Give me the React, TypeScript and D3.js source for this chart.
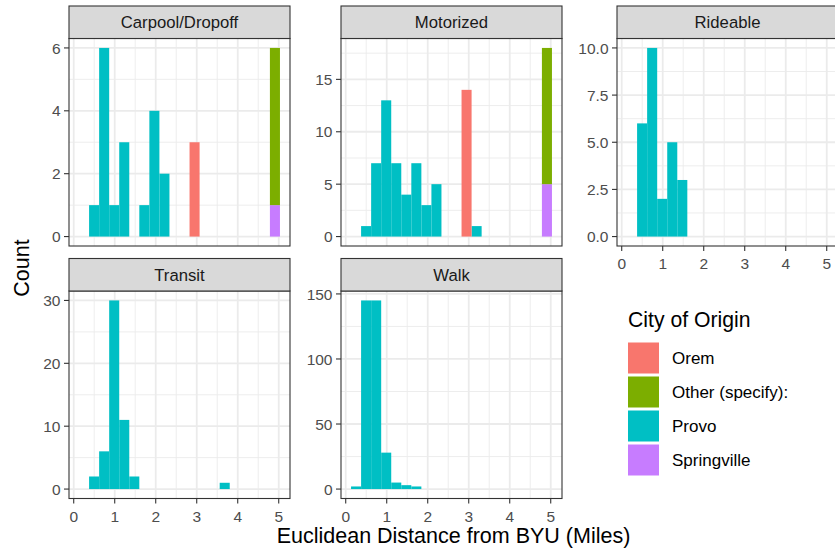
import React from "react";
import * as d3 from "d3";

// city levels (ggplot default hue palette)
const cities = ["Orem", "Other (specify):", "Provo", "Springville"];
const cityColors = ["#F8766D", "#7CAE00", "#00BFC4", "#C77CFF"];

// histogram bins (20 bins, shared x)
const binMin = 0.13;
const binWidth = 0.245;
const binCount = 20;

// counts per bin, per facet and city
const carpoolOrem = [0, 0, 0, 0, 0, 0, 0, 0, 0, 0, 0, 3, 0, 0, 0, 0, 0, 0, 0, 0];
const carpoolOther = [0, 0, 0, 0, 0, 0, 0, 0, 0, 0, 0, 0, 0, 0, 0, 0, 0, 0, 0, 5];
const carpoolProvo = [0, 1, 6, 1, 3, 0, 1, 4, 2, 0, 0, 0, 0, 0, 0, 0, 0, 0, 0, 0];
const carpoolSpringville = [0, 0, 0, 0, 0, 0, 0, 0, 0, 0, 0, 0, 0, 0, 0, 0, 0, 0, 0, 1];

const motorizedOrem = [0, 0, 0, 0, 0, 0, 0, 0, 0, 0, 0, 14, 0, 0, 0, 0, 0, 0, 0, 0];
const motorizedOther = [0, 0, 0, 0, 0, 0, 0, 0, 0, 0, 0, 0, 0, 0, 0, 0, 0, 0, 0, 13];
const motorizedProvo = [0, 1, 7, 13, 7, 4, 7, 3, 5, 0, 0, 0, 1, 0, 0, 0, 0, 0, 0, 0];
const motorizedSpringville = [0, 0, 0, 0, 0, 0, 0, 0, 0, 0, 0, 0, 0, 0, 0, 0, 0, 0, 0, 5];

const rideableProvo = [0, 6, 10, 2, 5, 3, 0, 0, 0, 0, 0, 0, 0, 0, 0, 0, 0, 0, 0, 0];
const transitProvo = [0, 2, 6, 30, 11, 2, 0, 0, 0, 0, 0, 0, 0, 0, 1, 0, 0, 0, 0, 0];
const walkProvo = [2, 145, 145, 28, 5, 3, 2, 0, 0, 0, 0, 0, 0, 0, 0, 0, 0, 0, 0, 0];
const none = [0, 0, 0, 0, 0, 0, 0, 0, 0, 0, 0, 0, 0, 0, 0, 0, 0, 0, 0, 0];

// tick labels
const xTicks = [0, 1, 2, 3, 4, 5];
const carpoolTicks = [0, 2, 4, 6];
const motorizedTicks = [0, 5, 10, 15];
const rideableTicks = [0, 2.5, 5, 7.5, 10];
const transitTicks = [0, 10, 20, 30];
const walkTicks = [0, 50, 100, 150];

const facets = [
  { name: "Carpool/Dropoff", col: 0, row: 0, xAxis: false, ticks: carpoolTicks, fmt: d3.format("d"),
    series: [carpoolOrem, carpoolOther, carpoolProvo, carpoolSpringville] },
  { name: "Motorized", col: 1, row: 0, xAxis: false, ticks: motorizedTicks, fmt: d3.format("d"),
    series: [motorizedOrem, motorizedOther, motorizedProvo, motorizedSpringville] },
  { name: "Rideable", col: 2, row: 0, xAxis: true, ticks: rideableTicks, fmt: d3.format(".1f"),
    series: [none, none, rideableProvo, none] },
  { name: "Transit", col: 0, row: 1, xAxis: true, ticks: transitTicks, fmt: d3.format("d"),
    series: [none, none, transitProvo, none] },
  { name: "Walk", col: 1, row: 1, xAxis: true, ticks: walkTicks, fmt: d3.format("d"),
    series: [none, none, walkProvo, none] },
];

const W = 835;
const H = 554;
const colX = [69, 341, 617];
const panelW = 221;
const rowY = [6, 258.5];
const stripH = 32.5;
const panelH = 207.5;
const font = "'Liberation Sans', Arial, Helvetica, sans-serif";
const grid = "#EBEBEB";
const dark = "#333333";

const edges = d3.range(binCount + 1).map((i) => binMin + i * binWidth);
const span = edges[binCount] - edges[0];
const x = d3
  .scaleLinear()
  .domain([edges[0] - 0.05 * span, edges[binCount] + 0.05 * span])
  .range([0, panelW]);

const minorOf = (ticks: number[], lo: number, hi: number) => {
  const step = ticks[1] - ticks[0];
  const m = ticks.map((t) => t - step / 2).concat([ticks[ticks.length - 1] + step / 2]);
  return m.filter((v) => v > lo && v < hi);
};

const Panel = ({ f }: { f: any }) => {
  const left = colX[f.col];
  const top = rowY[f.row] + stripH;
  const rows = d3.range(binCount).map((i) => {
    const r: any = { bin: i };
    f.series.forEach((s: number[], k: number) => (r[cities[k]] = s[i]));
    return r;
  });
  const keys = [...cities].reverse();
  const stacked = d3.stack().keys(keys)(rows);
  const maxY = d3.max(stacked[stacked.length - 1], (d) => d[1]) as number;
  const y = d3
    .scaleLinear()
    .domain([-0.05 * maxY, 1.05 * maxY])
    .range([panelH, 0]);
  const [x0, x1] = x.domain();
  const [y0, y1] = y.domain();
  const xMinor = minorOf(xTicks, x0, x1);
  const yMinor = minorOf(f.ticks, y0, y1);

  return (
    <g transform={`translate(${left},${top})`}>
      <rect width={panelW} height={panelH} fill="white" />
      {xMinor.map((v) => (
        <line key={"xm" + v} x1={x(v)} x2={x(v)} y1={0} y2={panelH} stroke={grid} strokeWidth={0.9} />
      ))}
      {yMinor.map((v) => (
        <line key={"ym" + v} x1={0} x2={panelW} y1={y(v)} y2={y(v)} stroke={grid} strokeWidth={0.9} />
      ))}
      {xTicks.map((v) => (
        <line key={"xM" + v} x1={x(v)} x2={x(v)} y1={0} y2={panelH} stroke={grid} strokeWidth={1.8} />
      ))}
      {f.ticks.map((v: number) => (
        <line key={"yM" + v} x1={0} x2={panelW} y1={y(v)} y2={y(v)} stroke={grid} strokeWidth={1.8} />
      ))}
      {stacked.map((layer) => (
        <g key={layer.key} fill={cityColors[cities.indexOf(layer.key)]}>
          {layer.map((d, i) =>
            d[1] - d[0] > 0 ? (
              <rect
                key={i}
                x={x(edges[i])}
                width={x(edges[i + 1]) - x(edges[i])}
                y={y(d[1])}
                height={y(d[0]) - y(d[1])}
              />
            ) : null
          )}
        </g>
      ))}
      <rect width={panelW} height={panelH} fill="none" stroke={dark} strokeWidth={1.1} />
      {/* strip */}
      <rect y={-stripH} width={panelW} height={stripH} fill="#D9D9D9" stroke={dark} strokeWidth={1.1} />
      <text
        x={panelW / 2}
        y={-stripH / 2}
        dy="0.36em"
        textAnchor="middle"
        fontFamily={font}
        fontSize={16.7}
        fill="#1A1A1A"
      >
        {f.name}
      </text>
      {/* y axis */}
      {f.ticks.map((v: number) => (
        <g key={"yt" + v} transform={`translate(0,${y(v)})`}>
          <line x1={-5} x2={0} stroke={dark} strokeWidth={1.1} />
          <text x={-8.5} dy="0.36em" textAnchor="end" fontFamily={font} fontSize={15.5} fill="#4D4D4D">
            {f.fmt(v)}
          </text>
        </g>
      ))}
      {/* x axis */}
      {f.xAxis &&
        xTicks.map((v) => (
          <g key={"xt" + v} transform={`translate(${x(v)},${panelH})`}>
            <line y1={0} y2={5} stroke={dark} strokeWidth={1.1} />
            <text y={23} textAnchor="middle" fontFamily={font} fontSize={15.5} fill="#4D4D4D">
              {v}
            </text>
          </g>
        ))}
    </g>
  );
};

export default function App() {
  return (
    <svg
      width={W}
      height={H}
      style={{ position: "absolute", left: 0, top: 0, background: "white" }}
    >
      <rect width={W} height={H} fill="white" />
      {facets.map((f) => (
        <Panel key={f.name} f={f} />
      ))}
      <text
        x={(colX[0] + colX[2] + panelW) / 2}
        y={543}
        textAnchor="middle"
        fontFamily={font}
        fontSize={21.5}
        fill="black"
      >
        Euclidean Distance from BYU (Miles)
      </text>
      <text
        transform="translate(29,268) rotate(-90)"
        textAnchor="middle"
        fontFamily={font}
        fontSize={21.5}
        fill="black"
      >
        Count
      </text>
      {/* legend */}
      <g transform="translate(628,0)">
        <text x={0} y={327} fontFamily={font} fontSize={21.2} fill="black">
          City of Origin
        </text>
        {cities.map((c, i) => (
          <g key={c} transform={`translate(0,${342.5 + i * 34})`}>
            <rect width={31} height={31} fill={cityColors[i]} />
            <text x={44} y={15.5} dy="0.36em" fontFamily={font} fontSize={17} fill="black">
              {c}
            </text>
          </g>
        ))}
      </g>
    </svg>
  );
}
